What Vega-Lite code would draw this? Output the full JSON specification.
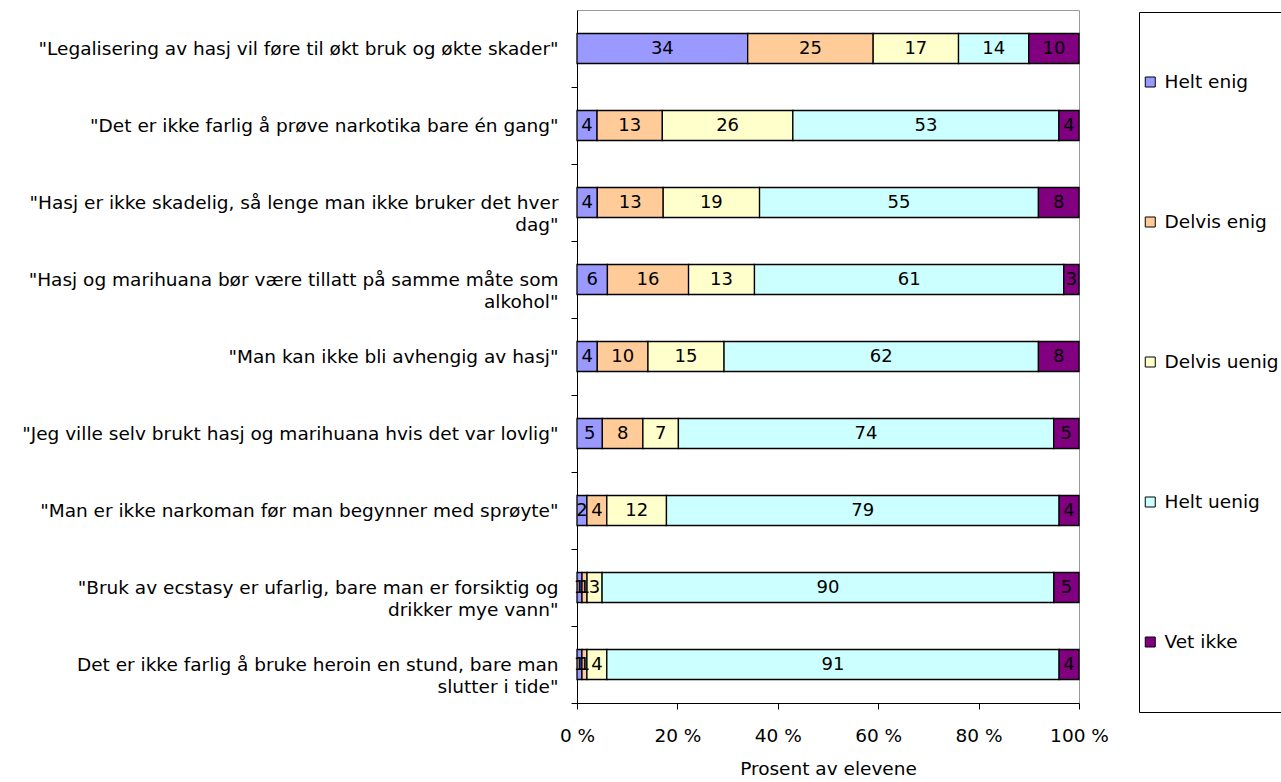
{
  "$schema": "https://vega.github.io/schema/vega-lite/v6.json",
  "width": 502,
  "height": 693,
  "padding": {"left": 21, "top": 10, "right": 0, "bottom": 0},
  "autosize": {"type": "pad"},
  "config": {
    "font": "DejaVu Sans",
    "view": {"stroke": "#9a9a9a", "strokeWidth": 1},
    "axis": {
      "domainColor": "black", "tickColor": "black", "labelColor": "black", "titleColor": "black",
      "grid": false, "labelFontSize": 18.5, "titleFontSize": 18.5, "titleFontWeight": "normal",
      "tickSize": 6, "domainWidth": 1, "tickWidth": 1
    }
  },
  "datasets": {
    "questions": [
      {"i": 1, "q": "\"Legalisering av hasj vil føre til økt bruk og økte skader\""},
      {"i": 2, "q": "\"Det er ikke farlig å prøve narkotika bare én gang\""},
      {"i": 3, "q": "\"Hasj er ikke skadelig, så lenge man ikke bruker det hver\ndag\""},
      {"i": 4, "q": "\"Hasj og marihuana bør være tillatt på samme måte som\nalkohol\""},
      {"i": 5, "q": "\"Man kan ikke bli avhengig av hasj\""},
      {"i": 6, "q": "\"Jeg ville selv brukt hasj og marihuana hvis det var lovlig\""},
      {"i": 7, "q": "\"Man er ikke narkoman før man begynner med sprøyte\""},
      {"i": 8, "q": "\"Bruk av ecstasy er ufarlig, bare man er forsiktig og\ndrikker mye vann\""},
      {"i": 9, "q": "Det er ikke farlig å bruke heroin en stund, bare man\nslutter i tide\""}
    ],
    "answers": [
      {"i": 1, "s": "Helt enig", "o": 1, "v": 34},
      {"i": 1, "s": "Delvis enig", "o": 2, "v": 25},
      {"i": 1, "s": "Delvis uenig", "o": 3, "v": 17},
      {"i": 1, "s": "Helt uenig", "o": 4, "v": 14},
      {"i": 1, "s": "Vet ikke", "o": 5, "v": 10},
      {"i": 2, "s": "Helt enig", "o": 1, "v": 4},
      {"i": 2, "s": "Delvis enig", "o": 2, "v": 13},
      {"i": 2, "s": "Delvis uenig", "o": 3, "v": 26},
      {"i": 2, "s": "Helt uenig", "o": 4, "v": 53},
      {"i": 2, "s": "Vet ikke", "o": 5, "v": 4},
      {"i": 3, "s": "Helt enig", "o": 1, "v": 4},
      {"i": 3, "s": "Delvis enig", "o": 2, "v": 13},
      {"i": 3, "s": "Delvis uenig", "o": 3, "v": 19},
      {"i": 3, "s": "Helt uenig", "o": 4, "v": 55},
      {"i": 3, "s": "Vet ikke", "o": 5, "v": 8},
      {"i": 4, "s": "Helt enig", "o": 1, "v": 6},
      {"i": 4, "s": "Delvis enig", "o": 2, "v": 16},
      {"i": 4, "s": "Delvis uenig", "o": 3, "v": 13},
      {"i": 4, "s": "Helt uenig", "o": 4, "v": 61},
      {"i": 4, "s": "Vet ikke", "o": 5, "v": 3},
      {"i": 5, "s": "Helt enig", "o": 1, "v": 4},
      {"i": 5, "s": "Delvis enig", "o": 2, "v": 10},
      {"i": 5, "s": "Delvis uenig", "o": 3, "v": 15},
      {"i": 5, "s": "Helt uenig", "o": 4, "v": 62},
      {"i": 5, "s": "Vet ikke", "o": 5, "v": 8},
      {"i": 6, "s": "Helt enig", "o": 1, "v": 5},
      {"i": 6, "s": "Delvis enig", "o": 2, "v": 8},
      {"i": 6, "s": "Delvis uenig", "o": 3, "v": 7},
      {"i": 6, "s": "Helt uenig", "o": 4, "v": 74},
      {"i": 6, "s": "Vet ikke", "o": 5, "v": 5},
      {"i": 7, "s": "Helt enig", "o": 1, "v": 2},
      {"i": 7, "s": "Delvis enig", "o": 2, "v": 4},
      {"i": 7, "s": "Delvis uenig", "o": 3, "v": 12},
      {"i": 7, "s": "Helt uenig", "o": 4, "v": 79},
      {"i": 7, "s": "Vet ikke", "o": 5, "v": 4},
      {"i": 8, "s": "Helt enig", "o": 1, "v": 1},
      {"i": 8, "s": "Delvis enig", "o": 2, "v": 1},
      {"i": 8, "s": "Delvis uenig", "o": 3, "v": 3},
      {"i": 8, "s": "Helt uenig", "o": 4, "v": 90},
      {"i": 8, "s": "Vet ikke", "o": 5, "v": 5},
      {"i": 9, "s": "Helt enig", "o": 1, "v": 1},
      {"i": 9, "s": "Delvis enig", "o": 2, "v": 1},
      {"i": 9, "s": "Delvis uenig", "o": 3, "v": 4},
      {"i": 9, "s": "Helt uenig", "o": 4, "v": 91},
      {"i": 9, "s": "Vet ikke", "o": 5, "v": 4}
    ]
  },
  "data": {"name": "answers"},
  "transform": [
    {"lookup": "i", "from": {"data": {"name": "questions"}, "key": "i", "fields": ["q"]}}
  ],
  "encoding": {
    "y": {
      "field": "q", "type": "nominal",
      "sort": {"field": "i", "op": "min", "order": "ascending"},
      "scale": {"paddingInner": 0.61, "paddingOuter": 0.305},
      "axis": {
        "title": null,
        "labelExpr": "split(datum.label, '\\n')",
        "labelLineHeight": 22,
        "labelPadding": 13,
        "labelLimit": 0,
        "bandPosition": 1.783
      }
    },
    "order": {"field": "o", "type": "quantitative"}
  },
  "layer": [
    {
      "mark": {"type": "bar", "stroke": "black", "strokeWidth": 1.3},
      "encoding": {
        "x": {
          "field": "v", "type": "quantitative", "stack": "normalize",
          "scale": {"domain": [0, 1], "nice": false},
          "axis": {
            "values": [0, 0.2, 0.4, 0.6, 0.8, 1],
            "labelExpr": "round(datum.value * 100) + ' %'",
            "title": "Prosent av elevene",
            "labelPadding": 17,
            "titlePadding": 15,
            "labelFlush": false
          }
        },
        "color": {
          "field": "s", "type": "nominal",
          "scale": {
            "domain": ["Helt enig", "Delvis enig", "Delvis uenig", "Helt uenig", "Vet ikke"],
            "range": ["#9999FF", "#FFCC99", "#FFFFCC", "#CCFFFF", "#800080"]
          },
          "legend": {
            "orient": "none", "legendX": 562, "legendY": 2,
            "title": " ", "titleOrient": "right", "titlePadding": 10,
            "padding": 0, "strokeColor": "black",
            "symbolType": "square", "symbolSize": 100,
            "symbolStrokeColor": "black", "symbolStrokeWidth": 1,
            "symbolOffset": 2, "labelOffset": 5,
            "labelFontSize": 18.5, "labelColor": "black", "labelLimit": 300,
            "clipHeight": 140, "rowPadding": 0
          }
        }
      }
    },
    {
      "mark": {"type": "text", "fontSize": 18, "color": "black"},
      "encoding": {
        "x": {"field": "v", "type": "quantitative", "stack": "normalize", "bandPosition": 0.5},
        "detail": {"field": "s"},
        "text": {"field": "v", "type": "quantitative"}
      }
    }
  ]
}
